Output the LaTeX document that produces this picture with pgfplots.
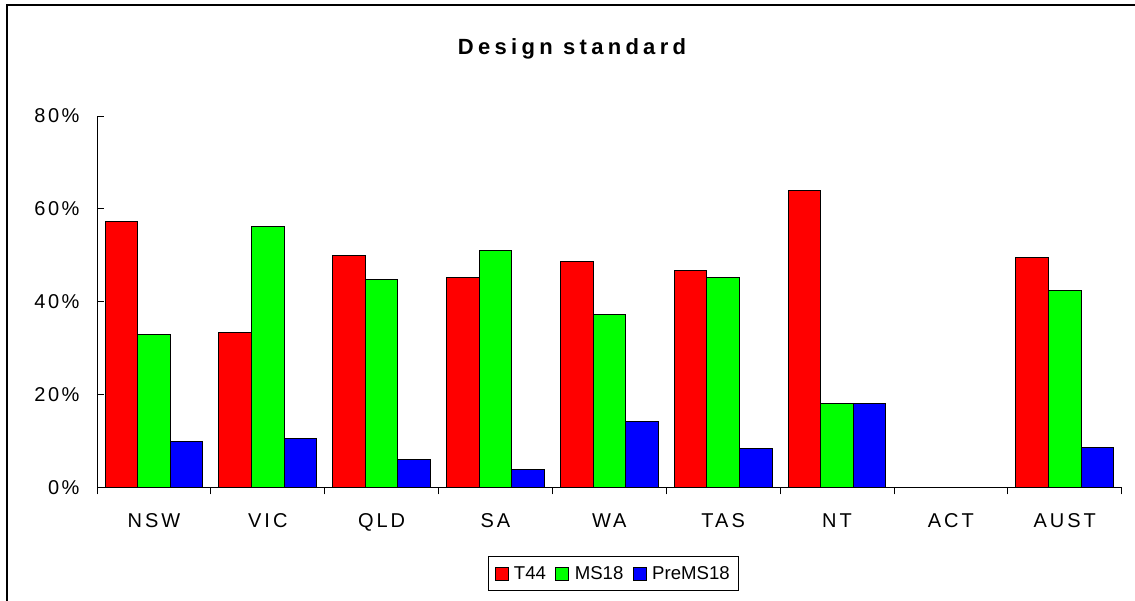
\documentclass[border=0pt]{standalone}
\usepackage{fontspec}
\setmainfont{Liberation Sans}
\newfontfamily\ticksfont[LetterSpace=12.5]{Liberation Sans}
\newfontfamily\catfont[LetterSpace=15]{Liberation Sans}
\newfontfamily\titlefont[LetterSpace=19.5]{Liberation Sans}
\usepackage{pgfplots}
\pgfplotsset{compat=1.18}
\definecolor{barred}{RGB}{255,0,0}
\definecolor{bargreen}{RGB}{0,255,0}
\definecolor{barblue}{RGB}{0,0,255}

\begin{document}
\begin{tikzpicture}
\useasboundingbox (0,0) rectangle (1135pt,601pt);
% chart frame
\draw[line width=1.3pt] (7pt,0pt) -- (7pt,596pt) -- (1135pt,596pt);
% title
\node[anchor=base, inner sep=0pt, font=\titlefont\bfseries\fontsize{22}{26}\selectfont] at (572pt,546pt) {Design standard};
\begin{axis}[
  at={(97pt,113.7pt)}, anchor=south west,
  scale only axis, width=1024.7pt, height=371.3pt,
  xmin=-0.5, xmax=8.5, ymin=0, ymax=80,
  axis x line*=bottom, axis y line*=left,
  axis line style={line width=0.8pt},
  ytick={0,20,40,60,80},
  yticklabels={0\%,20\%,40\%,60\%,80\%},
  yticklabel style={font=\ticksfont\fontsize{20}{24}\selectfont, xshift=-14pt},
  xtick={0,...,8},
  xticklabels={NSW,VIC,QLD,SA,WA,TAS,NT,ACT,AUST},
  xticklabel style={font=\catfont\fontsize{20}{24}\selectfont, yshift=-16pt},
  minor xtick={-0.5,0.5,...,8.5},
  major x tick style={draw=none},
  tick align=inside,
  major tick length=7pt, minor tick length=7pt,
  tick style={line width=0.8pt, black},
  ybar=0pt, bar width=32.6pt,
  legend columns=-1,
  legend style={at={(0.504,-0.232)}, anchor=center, draw=black, line width=0.8pt,
    font=\fontsize{18.6}{22}\selectfont,
    inner xsep=6pt, inner ysep=7pt,
    /tikz/every odd column/.append style={column sep=3pt},
    /tikz/every even column/.append style={column sep=7pt},
    nodes={inner sep=2.5pt}},
  every axis plot post/.append style={
    legend image code/.code={\draw[##1, line width=0.8pt] (0pt,-6.5pt) rectangle (13pt,6.5pt);}},
]
\addplot[fill=barred, draw=black, line width=1pt] coordinates
  {(0,57.2) (1,33.3) (2,49.9) (3,45.2) (4,48.6) (5,46.7) (6,64.0) (8,49.5)};
\addplot[fill=bargreen, draw=black, line width=1pt] coordinates
  {(0,33.0) (1,56.1) (2,44.8) (3,51.0) (4,37.3) (5,45.2) (6,18.0) (8,42.4)};
\addplot[fill=barblue, draw=black, line width=1pt] coordinates
  {(0,9.8) (1,10.6) (2,6.0) (3,3.9) (4,14.2) (5,8.3) (6,18.0) (8,8.6)};
\legend{T44,MS18,PreMS18}
\end{axis}
\end{tikzpicture}
\end{document}
